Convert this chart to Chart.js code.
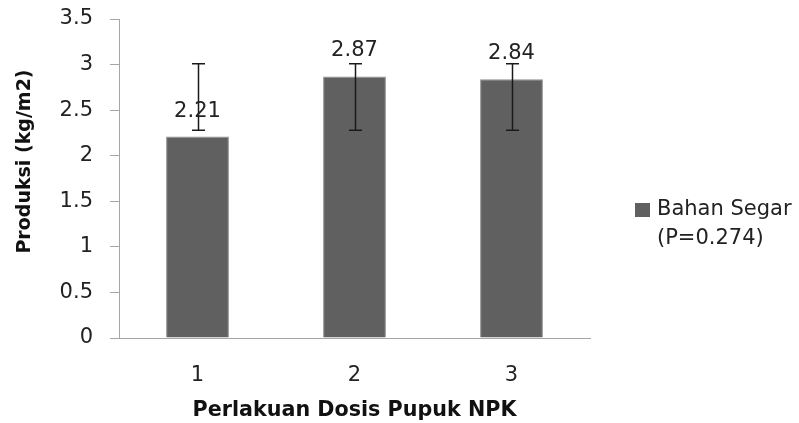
<!DOCTYPE html>
<html>
<head>
<meta charset="utf-8">
<script src="https://cdn.jsdelivr.net/npm/chart.js@4"></script>
<style>
html,body{margin:0;padding:0;background:#fff;}
#wrap{width:799px;height:423px;}
</style>
</head>
<body>
<div id="wrap"><canvas id="c" width="799" height="423"></canvas></div>
<script>
const categories = ['1', '2', '3'];
const values = [2.21, 2.87, 2.84];
const errLow = [2.28, 2.28, 2.28];
const errHigh = [3.01, 3.01, 3.01];
const seriesName = ['Bahan Segar', '(P=0.274)'];
const yTitle = 'Produksi (kg/m2)';
const xTitle = 'Perlakuan Dosis Pupuk NPK';

const FONT = 'DejaVu Sans';
const TXT = '#222222';

const extras = {
  id: 'extras',
  afterDatasetsDraw(chart) {
    const ctx = chart.ctx;
    const meta = chart.getDatasetMeta(0);
    const y = chart.scales.y;
    ctx.save();
    // error bars
    ctx.strokeStyle = '#1a1a1a';
    ctx.lineWidth = 1.5;
    meta.data.forEach((bar, i) => {
      const x = Math.round(bar.x) + 0.5;
      const yl = y.getPixelForValue(errLow[i]);
      const yh = y.getPixelForValue(errHigh[i]);
      ctx.beginPath();
      ctx.moveTo(x, yl); ctx.lineTo(x, yh);
      ctx.moveTo(x - 6.5, yl); ctx.lineTo(x + 6.5, yl);
      ctx.moveTo(x - 6.5, yh); ctx.lineTo(x + 6.5, yh);
      ctx.stroke();
    });
    // data labels
    ctx.fillStyle = TXT;
    ctx.font = '21px "' + FONT + '"';
    ctx.textAlign = 'center';
    ctx.textBaseline = 'bottom';
    meta.data.forEach((bar, i) => {
      ctx.fillText(values[i].toFixed(2), bar.x, bar.y - 15);
    });
    // legend
    const lx = 635, ly = 203;
    ctx.fillStyle = '#606060';
    ctx.fillRect(lx, ly, 15, 14);
    ctx.fillStyle = TXT;
    ctx.textAlign = 'left';
    ctx.textBaseline = 'middle';
    ctx.fillText(seriesName[0], lx + 22, ly + 7);
    ctx.fillText(seriesName[1], lx + 22, ly + 36);
    // y title
    ctx.fillStyle = '#111';
    ctx.font = 'bold 19px "' + FONT + '"';
    ctx.translate(25, 161.5);
    ctx.rotate(-Math.PI / 2);
    ctx.textAlign = 'center';
    ctx.textBaseline = 'middle';
    ctx.fillText(yTitle, 0, 0);
    ctx.restore();
  }
};

new Chart(document.getElementById('c'), {
  type: 'bar',
  data: {
    labels: categories,
    datasets: [{
      label: seriesName.join(' '),
      data: values,
      backgroundColor: '#606060',
      borderColor: '#8c8c8c',
      borderWidth: 1,
      barPercentage: 0.4,
      categoryPercentage: 1
    }]
  },
  options: {
    responsive: false,
    animation: false,
    devicePixelRatio: 1,
    layout: { padding: { top: 19, right: 209, left: 0, bottom: 0 } },
    plugins: { legend: { display: false }, tooltip: { enabled: false } },
    scales: {
      x: {
        grid: { drawOnChartArea: false, drawTicks: false },
        border: { color: '#a6a6a6', width: 1 },
        ticks: { color: TXT, font: { family: FONT, size: 21 }, padding: 25 },
        title: { display: true, text: xTitle, color: '#111', font: { family: FONT, size: 20.7, weight: 'bold' }, padding: { top: 6, bottom: 0 } },
        afterFit(s) { s.height = 85; s.paddingLeft = 0; s.paddingRight = 0; }
      },
      y: {
        min: 0, max: 3.5,
        ticks: { stepSize: 0.5, color: TXT, font: { family: FONT, size: 21 }, padding: 17,
                 callback: v => String(v) },
        grid: { drawOnChartArea: false, drawTicks: true, tickLength: 9, color: '#a6a6a6' },
        border: { color: '#a6a6a6', width: 1 },
        afterFit(s) { s.width = 119; s.paddingTop = 0; s.paddingBottom = 0; }
      }
    }
  },
  plugins: [extras]
});
</script>
</body>
</html>
